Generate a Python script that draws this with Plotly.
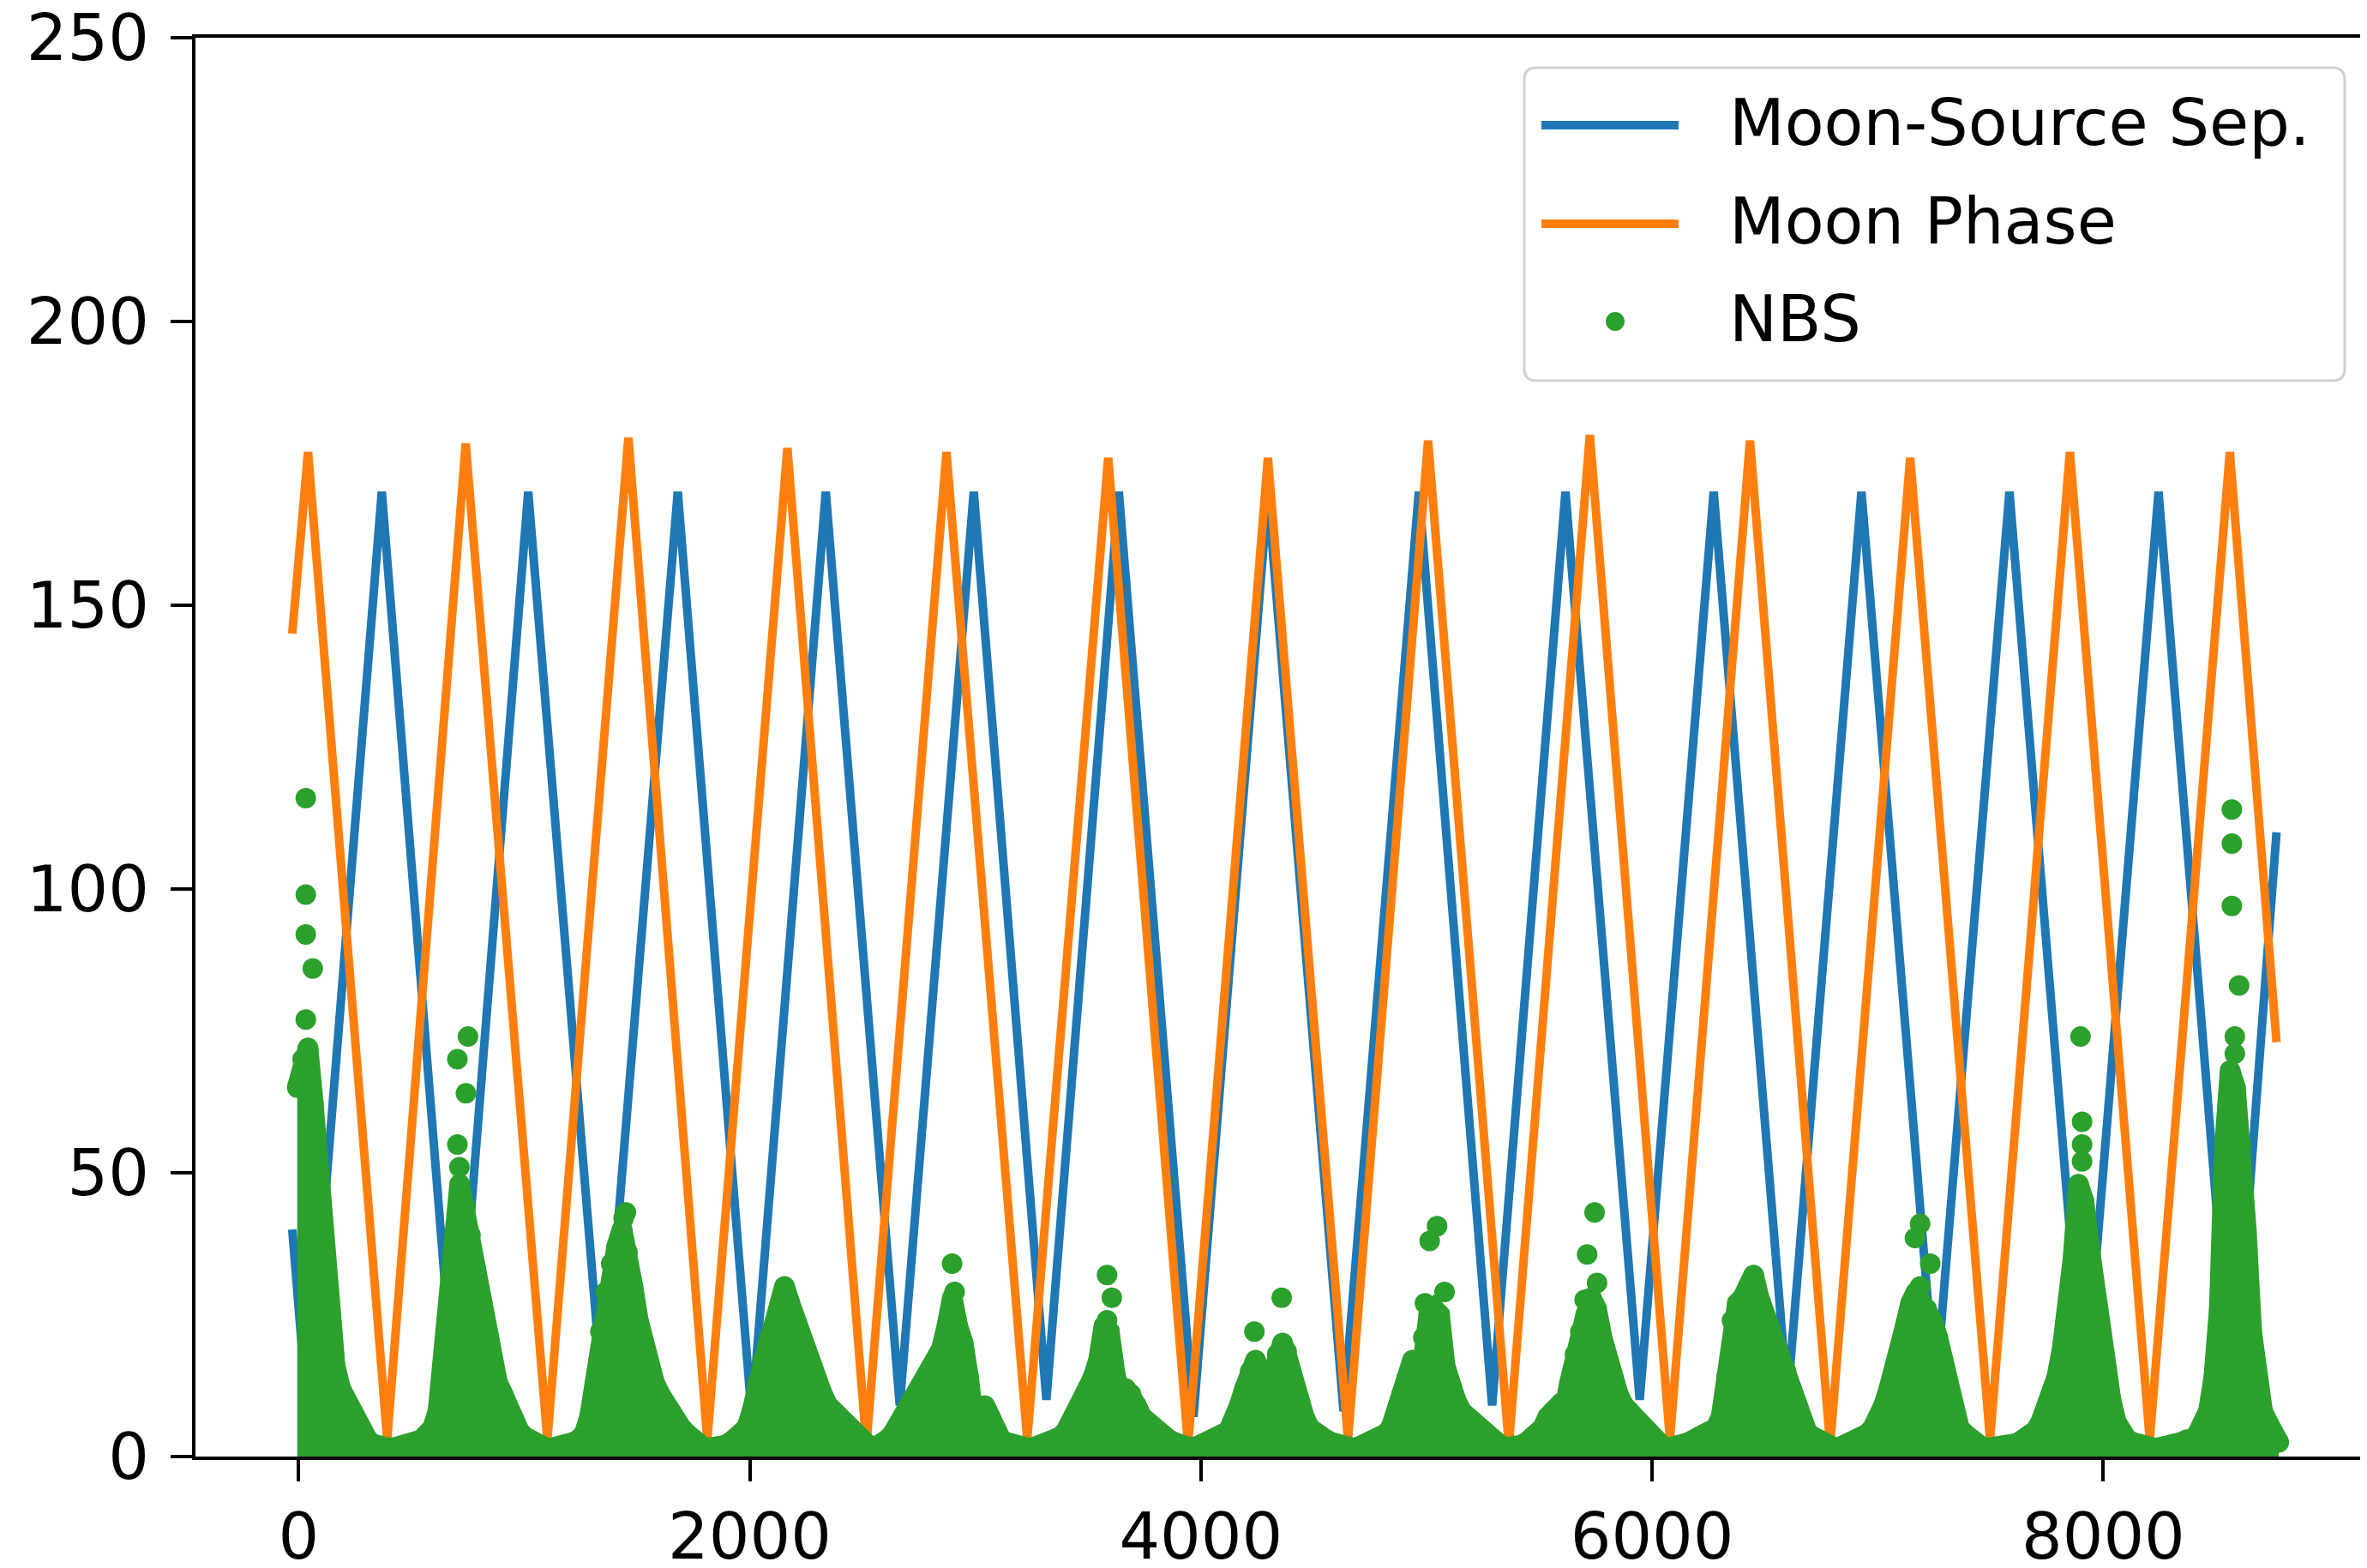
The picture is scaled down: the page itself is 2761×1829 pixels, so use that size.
import plotly.graph_objects as go

# ---------------- data ----------------
# Moon-Source separation: turning points of the (near-triangular) curve
sep_x = [-28, 40, 369, 694, 1018, 1350, 1681, 2009, 2337, 2665, 2993, 3315, 3636, 3967,
         4297, 4632, 4966, 5291, 5616, 5945, 6273, 6600, 6928, 7256, 7584, 7915, 8245,
         8575, 8768]
sep_y = [40, 7, 170, 8, 170, 9, 170, 7, 170, 9, 170, 10, 170, 7,
         170, 8, 170, 9, 170, 10, 170, 10, 170, 11, 170, 9, 170,
         8, 110]

# Moon phase: turning points
phase_x = [-28, 42, 393, 741, 1103, 1462, 1812, 2167, 2517, 2872, 3230, 3589, 3943, 4297,
           4652, 5007, 5365, 5724, 6079, 6434, 6789, 7144, 7498, 7852, 8206, 8561, 8768]
phase_y = [145, 177, 3, 178.5, 3, 179.5, 3, 177.7, 2, 177, 3, 176, 2, 176,
           3, 179, 2, 180, 3, 179, 2, 176, 3, 177, 3, 177, 73]

# NBS: nightly values, one per day (first night at hour -6, then every 24 h)
nbs_night = [
    65, 70, 72, 62, 50, 30, 20, 16, 12, 10, 7, 5, 4, 3, 2.2, 1.8, 1.5, 1.5, 1.6, 1.8,
    2, 2.2, 2.5, 3, 4, 5,
    8, 16, 26, 38, 48, 44, 39, 33, 28, 22, 17, 13, 11, 8, 6, 4.5, 3.5, 2.8, 2.2, 1.8,
    1.5, 1.5, 1.6, 1.8, 2, 2.5, 3, 4,
    7, 13, 22, 29, 34, 37, 40, 36, 30, 24, 19, 16, 13, 11, 9, 7, 6, 5, 4, 3,
    2.2, 1.7, 1.5, 1.5, 1.7, 2, 2.5, 3, 3.5, 5,
    8, 13, 17, 20, 23, 26, 30, 27, 24, 21, 18, 15, 13, 11, 9, 8, 7, 6, 5, 3.5,
    2.5, 1.6, 1.5, 1.8, 2.2, 3,
    4, 5.5, 7, 9, 10, 12, 13, 15, 17, 19, 23, 28, 23, 20, 14, 6, 6, 9, 7, 4,
    3, 2.5, 2, 1.8, 1.5, 1.5, 1.6, 1.8, 2, 2.5, 3, 3.5,
    4.5, 6, 8, 10, 12, 14, 17, 23, 22, 15, 10, 12, 11, 9, 7, 6, 5, 4, 3.5, 3,
    2.5, 2, 1.5, 1.5, 1.7, 2, 2.5, 3, 3.5, 4,
    4.5, 6, 9, 12, 15, 17, 14, 12, 14, 18, 20, 17, 13, 10, 7, 5, 4, 3.5, 3, 2.5,
    2, 1.7, 1.5, 1.5, 1.7, 2, 2.5, 3, 3.5, 4,
    5, 7, 11, 14, 17, 9, 21, 25, 26, 25, 16, 12, 10, 8, 7, 6, 5, 4, 3.5, 3,
    2.2, 1.6, 1.5, 1.6, 2, 2.5, 3, 4, 5, 7, 8, 6,
    8, 13, 18, 22, 25, 28, 26, 21, 17, 14, 11, 9, 8, 6, 5, 4, 3, 2.5, 2, 1.5,
    1.5, 1.8, 2.2, 2.5, 3, 3.5, 4, 4.5,
    5, 7, 14, 24, 27, 28, 30, 32, 28, 25, 22, 19, 17, 15, 12, 9, 6, 4, 3.5, 3,
    2, 1.5, 1.5, 1.7, 2, 2.5, 3, 3.5, 4,
    5, 6.5, 9, 12, 15, 19, 23, 27, 29, 27, 26, 24, 21, 17, 12, 8, 5, 4, 3, 2.2,
    1.8, 1.5, 1.5, 1.6, 1.8, 2, 2.2, 2.5, 3,
    3.5, 4.5, 6, 8, 11, 14, 19, 26, 35, 48, 45, 37, 29, 21, 15, 10, 6, 4, 3, 2.5,
    2, 1.7, 1.5, 1.5, 1.6, 1.8, 2, 2.2, 2.5, 3, 3,
    4, 5.5, 8, 14, 26, 55, 68, 65, 55, 40, 22, 12, 8, 6, 4, 2.5,
]
nbs_day = list(range(len(nbs_night)))
nbs_hour = [24 * d - 6 for d in nbs_day]

# NBS: isolated high hourly values standing above the clusters
nbs_peak_x = [32, 32, 32, 63, 32, 751, 704, 742, 704, 713, 1451, 1441, 2897, 2908,
              3584, 3605, 3584, 4237, 4358, 4380, 5047, 5014, 5080, 4993, 5025,
              5745, 5712, 5756, 5701, 7188, 7165, 7233, 7188, 7899, 7906, 7906, 7906,
              8570, 8570, 8570, 8602, 8583, 8583]
nbs_peak_y = [116, 99, 92, 86, 77, 74, 70, 64, 55, 51, 43, 42, 34, 29,
              32, 28, 24, 22, 28, 18.5, 40.6, 38, 29, 27, 23,
              43, 35.6, 30.6, 27.6, 41, 38.5, 34, 30, 74, 59, 55, 52,
              114, 108, 97, 83, 74, 71]

x_ticks = [0, 2000, 4000, 6000, 8000]
y_ticks = [0, 50, 100, 150, 200, 250]
legend_labels = ["Moon-Source Sep.", "Moon Phase", "NBS"]

# ---------------- style ----------------
BLUE, ORANGE, GREEN = "#1f77b4", "#ff7f0e", "#2ca02c"
W, H = 2761, 1829
OFF = 8                      # the html body adds an 8 px margin
PL, PT, PB, PR = 228, 44, 1699, 2761   # wanted plot-area edges on the page
L, T = PL - OFF, PT - OFF
B = H - (PB - OFF)
R = W - (PR - OFF)
PW, PH = W - L - R, H - T - B
FONT = "DejaVu Sans"
FS = 75
MS = 24
LW = 10


def px(xp):
    return (xp - OFF - L) / PW


def py(yp):
    return (H - B - (yp - OFF)) / PH


fig = go.Figure()
fig.add_trace(go.Scatter(x=sep_x, y=sep_y, mode="lines", name=legend_labels[0],
                         line=dict(color=BLUE, width=LW), showlegend=False))
fig.add_trace(go.Scatter(x=phase_x, y=phase_y, mode="lines", name=legend_labels[1],
                         line=dict(color=ORANGE, width=LW), showlegend=False))
# dense hourly dots: nightly envelope drawn with marker-wide outline and filled to zero
fig.add_trace(go.Scatter(x=nbs_hour, y=nbs_night, mode="lines+markers", name=legend_labels[2],
                         fill="tozeroy", fillcolor=GREEN,
                         line=dict(color=GREEN, width=MS),
                         marker=dict(color=GREEN, size=MS, line=dict(width=0)),
                         showlegend=False))
fig.add_trace(go.Scatter(x=nbs_peak_x, y=nbs_peak_y, mode="markers", name=legend_labels[2],
                         marker=dict(color=GREEN, size=MS, line=dict(width=0)),
                         showlegend=False))

# ---- legend drawn by hand (matplotlib style) ----
x0, x1, y0, y1, r = 1778, 2735, 79, 444, 14
rx, ry = r / PW, r / PH
X0, X1, Yt, Yb = px(x0), px(x1), py(y0), py(y1)
path = (f"M{X0+rx},{Yt} L{X1-rx},{Yt} Q{X1},{Yt} {X1},{Yt-ry} "
        f"L{X1},{Yb+ry} Q{X1},{Yb} {X1-rx},{Yb} L{X0+rx},{Yb} Q{X0},{Yb} {X0},{Yb+ry} "
        f"L{X0},{Yt-ry} Q{X0},{Yt} {X0+rx},{Yt} Z")
shapes = [dict(type="path", path=path, xref="paper", yref="paper",
               fillcolor="rgba(255,255,255,0.85)", line=dict(color="#d0d0d0", width=3),
               layer="above")]
rows = [146, 261, 375]
for yy, col in zip(rows[:2], [BLUE, ORANGE]):
    shapes.append(dict(type="line", xref="paper", yref="paper",
                       x0=px(1798), x1=px(1958), y0=py(yy), y1=py(yy),
                       line=dict(color=col, width=LW), layer="above"))
shapes.append(dict(type="circle", xref="paper", yref="paper",
                   x0=px(1884 - 11), x1=px(1884 + 11), y0=py(375 + 11), y1=py(375 - 11),
                   fillcolor=GREEN, line=dict(width=0), layer="above"))
annotations = []
for yy, txt in zip(rows, legend_labels):
    annotations.append(dict(text=txt, xref="paper", yref="paper", x=px(2015), y=py(yy - 3),
                            xanchor="left", yanchor="middle", showarrow=False,
                            font=dict(family=FONT, size=FS, color="black")))

fig.update_layout(
    width=W, height=H, margin=dict(l=L, r=R, t=T, b=B, pad=0, autoexpand=False),
    paper_bgcolor="white", plot_bgcolor="white",
    shapes=shapes, annotations=annotations, showlegend=False,
    font=dict(family=FONT, size=FS, color="black"),
)
fig.update_xaxes(range=[-457, 9169], tickvals=x_ticks, ticktext=[str(v) for v in x_ticks],
                 showgrid=False, zeroline=False, showline=True, linecolor="black",
                 linewidth=4, mirror=True, ticks="outside", ticklen=25, tickwidth=4,
                 tickcolor="black", tickfont=dict(family=FONT, size=FS, color="black"),
                 ticklabelstandoff=0, automargin=False, ticklabeloverflow="allow")
fig.update_yaxes(range=[0, 250], tickvals=y_ticks, ticktext=[str(v) for v in y_ticks],
                 showgrid=False, zeroline=False, showline=True, linecolor="black",
                 linewidth=4, ticks="outside", ticklen=25, tickwidth=4,
                 tickcolor="black", tickfont=dict(family=FONT, size=FS, color="black"),
                 ticklabelstandoff=10, automargin=False, ticklabeloverflow="allow")

fig.write_html("out.html")
